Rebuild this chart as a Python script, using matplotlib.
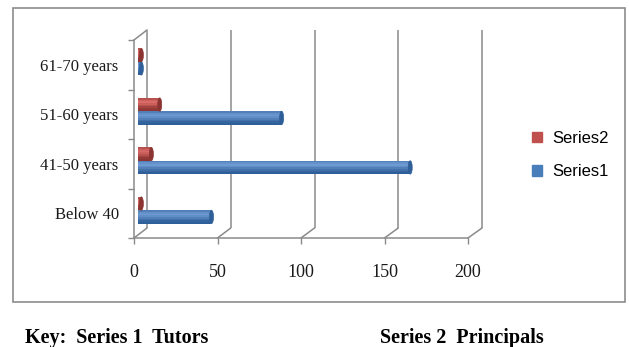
import numpy as np
import matplotlib.pyplot as plt
from matplotlib.colors import to_rgb
from matplotlib.patches import Ellipse, Rectangle, ConnectionPatch

# data
categories = ["Below 40", "41-50 years", "51-60 years", "61-70 years"]
tutors = [44, 163, 86, 2]        # Series1
principals = [2, 8, 13, 2]       # Series2
xticks = [0, 50, 100, 150, 200]

blue, blue_dark, blue_hi = "#4a7ebb", "#2f5f98", "#6e9ad3"
red, red_dark, red_hi = "#c0504d", "#8c3431", "#da6a67"
grid_col = "#8a8a8a"

W, H = 629, 347
fig = plt.figure(figsize=(W / 100, H / 100), dpi=100)
fig.patch.set_facecolor("white")


def px_axes(left, top, right, bottom):
    return fig.add_axes([left / W, 1 - bottom / H, (right - left) / W, (bottom - top) / H])


def mix(c1, c2, t):
    a, b = np.array(to_rgb(c1)), np.array(to_rgb(c2))
    return tuple(a + (b - a) * t)


y = np.arange(len(categories))
ylim = (-0.5, len(categories) - 0.5)

# back wall with gridlines
back = px_axes(147, 30, 482, 228)
back.set_xlim(0, 200)
back.set_ylim(*ylim)
back.set_axis_off()
back.vlines(xticks, ylim[0], ylim[1], color=grid_col, lw=1.1, clip_on=False)

# front plane: axis lines, ticks, labels
front = px_axes(134, 40, 468, 238)
front.set_facecolor("none")
front.set_xlim(0, 200)
front.set_ylim(*ylim)
for s in ["top", "right"]:
    front.spines[s].set_visible(False)
for s in ["left", "bottom"]:
    front.spines[s].set_color(grid_col)
    front.spines[s].set_linewidth(1.1)
front.set_xticks(xticks)
front.set_xticklabels([str(t) for t in xticks], fontfamily="Liberation Serif", fontsize=13, color="#1a1a1a")
front.tick_params(axis="x", length=4, width=1, color=grid_col, pad=15)
front.set_yticks(np.arange(ylim[0], ylim[1] + 0.01, 1.0))
front.set_yticklabels([])
front.tick_params(axis="y", length=4, width=1, color=grid_col)
front.set_yticks(y, minor=True)
front.set_yticklabels(categories, minor=True, fontfamily="Liberation Serif", fontsize=12, color="#1a1a1a")
front.tick_params(axis="y", which="minor", length=0, pad=11)

# floor / wall edges joining front and back planes
for t in xticks:
    fig.add_artist(ConnectionPatch(xyA=(t, ylim[0]), coordsA=front.transData,
                                   xyB=(t, ylim[0]), coordsB=back.transData,
                                   color=grid_col, lw=1.1))
fig.add_artist(ConnectionPatch(xyA=(0, ylim[1]), coordsA=front.transData,
                               xyB=(0, ylim[1]), coordsB=back.transData,
                               color=grid_col, lw=1.1))

# bars sit a little behind the front plane
bars = px_axes(138, 37, 472, 235)
bars.set_xlim(0, 200)
bars.set_ylim(*ylim)
bars.set_axis_off()

h = 0.27
cap_w = 2.4
nb = 8
# cylinder shading: light near the top, darker toward the bottom
shade = [0.55, 0.85, 1.0, 0.8, 0.55, 0.3, 0.1, 0.0]
for vals, off, c, cd, ch in [(tutors, -h / 2, blue, blue_dark, blue_hi),
                             (principals, h / 2, red, red_dark, red_hi)]:
    yy = y + off
    for k in range(nb):
        yk = yy + h / 2 - (k + 0.5) * h / nb
        bars.barh(yk, vals, height=h / nb + 0.002, color=mix(cd, ch, shade[k]), lw=0)
    for v, yc in zip(vals, yy):
        bars.add_patch(Ellipse((v, yc), cap_w, h, facecolor=cd, edgecolor=cd, lw=0.5, clip_on=False))

# legend
handles = [Rectangle((0, 0), 1, 1, color=red), Rectangle((0, 0), 1, 1, color=blue)]
fig.legend(handles, ["Series2", "Series1"], loc="center left",
           bbox_to_anchor=(517 / W, 1 - 155 / H), frameon=False,
           prop={"family": "Liberation Sans", "size": 12},
           handlelength=0.6, handleheight=0.6, handletextpad=0.6, labelspacing=1.1)

# outer border
fig.add_artist(Rectangle((13 / W, 1 - 302 / H), (625 - 13) / W, (302 - 8) / H,
                         transform=fig.transFigure, fill=False, ec="#8c8c8c", lw=1.2))

# key under the chart
fig.text(25 / W, 1 - 338 / H, "Key:  Series 1  Tutors", fontfamily="Liberation Serif",
         fontweight="bold", fontsize=14.5, va="center", ha="left")
fig.text(380 / W, 1 - 338 / H, "Series 2  Principals", fontfamily="Liberation Serif",
         fontweight="bold", fontsize=14.5, va="center", ha="left")

fig.savefig("out.png", dpi=100)
